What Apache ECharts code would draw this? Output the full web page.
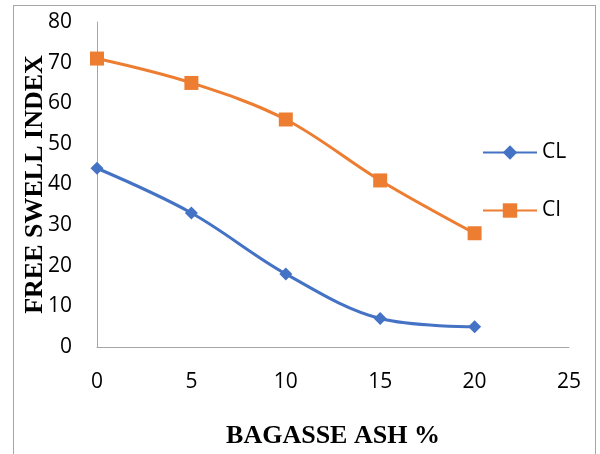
<!DOCTYPE html>
<html><head><meta charset="utf-8">
<script src="https://cdn.jsdelivr.net/npm/echarts@6/dist/echarts.min.js"></script>
<style>html,body{margin:0;padding:0;background:#fff;overflow:hidden;width:600px;height:454px}#c{width:600px;height:454px;position:absolute;left:0;top:0}
#b{position:absolute;left:13px;top:5px;width:583px;height:449px;border:1px solid #a6a6a6;border-bottom:none;box-sizing:border-box;pointer-events:none}</style>
</head><body><div id="c"></div><div id="b"></div>
<script>
const xValues = [0, 5, 10, 15, 20];
const clValues = [44, 33, 18, 7, 5];
const ciValues = [71, 65, 56, 41, 28];
const chart = echarts.init(document.getElementById('c'));
chart.setOption({
  animation: false,
  grid: {left: 97, right: 31, top: 22, bottom: 104},
  legend: {
    orient: 'vertical', left: 482, top: 142, itemGap: 37, padding: 0,
    itemWidth: 54, itemHeight: 18,
    textStyle: {fontFamily: 'Open Sans', fontSize: 21, color: '#000'},
    data: ['CL', 'CI']
  },
  xAxis: {
    type: 'value', min: 0, max: 25, interval: 5,
    name: 'BAGASSE ASH %', nameLocation: 'middle', nameGap: 76, nameMoveOverlap: false,
    nameTextStyle: {fontFamily: 'Liberation Serif', fontWeight: 'bold', fontSize: 26, color: '#000'},
    axisLine: {lineStyle: {color: '#a6a6a6'}},
    axisTick: {show: false},
    splitLine: {show: false},
    axisLabel: {fontFamily: 'Open Sans', fontSize: 21, color: '#000', margin: 25}
  },
  yAxis: {
    type: 'value', min: 0, max: 80, interval: 10,
    name: 'FREE SWELL INDEX', nameLocation: 'middle', nameGap: 49, nameMoveOverlap: false,
    nameTextStyle: {fontFamily: 'Liberation Serif', fontWeight: 'bold', fontSize: 26, color: '#000'},
    axisLine: {show: true, lineStyle: {color: '#a6a6a6'}},
    axisTick: {show: false},
    splitLine: {show: false},
    axisLabel: {fontFamily: 'Open Sans', fontSize: 21, color: '#000', margin: 25}
  },
  series: [
    {name: 'CL', type: 'line', smooth: 0.35, symbol: 'diamond', symbolSize: 13,
     data: xValues.map((x, i) => [x, clValues[i]]),
     lineStyle: {color: '#4472c4', width: 3}, itemStyle: {color: '#4472c4'}},
    {name: 'CI', type: 'line', smooth: 0.35, symbol: 'rect', symbolSize: 14,
     data: xValues.map((x, i) => [x, ciValues[i]]),
     lineStyle: {color: '#ed7d31', width: 3}, itemStyle: {color: '#ed7d31'}}
  ]
});
</script></body></html>
